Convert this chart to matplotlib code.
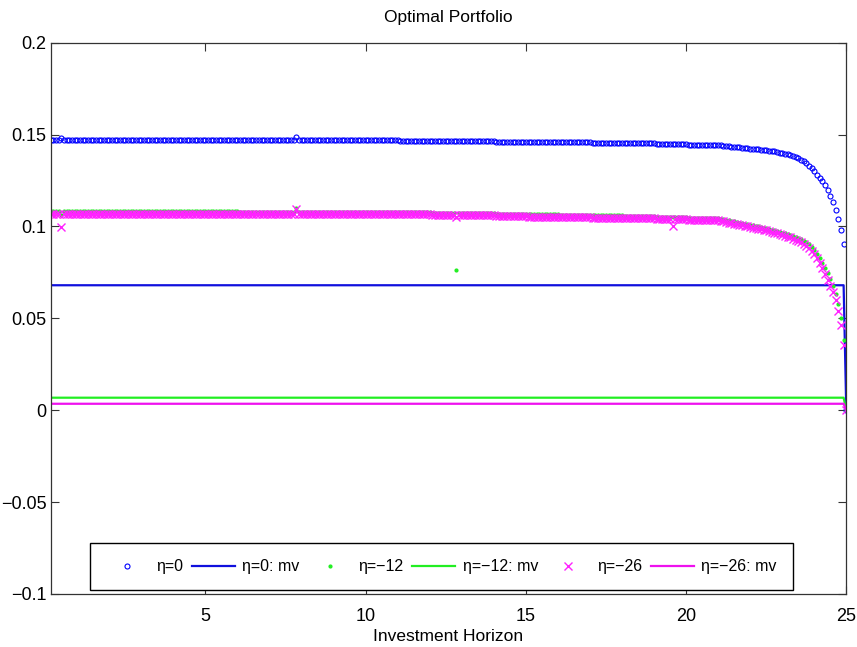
import numpy as np
import matplotlib
matplotlib.use('Agg')
import matplotlib.pyplot as plt

plt.rcParams['font.family'] = ['Liberation Sans', 'DejaVu Sans']

# Investment horizon in months (monthly grid up to 25 years)
months = np.arange(2, 301)
# plateau values per year (first block 11 months, then 12 each), years 0..20
group_counts = [11] + [12] * 20

eta0_plateau = [0.1468, 0.1468, 0.1468, 0.1468, 0.1468, 0.1468, 0.1468, 0.1468, 0.1468, 0.1468, 0.1468,
                0.1467, 0.1465, 0.1463, 0.1461, 0.1459, 0.1457, 0.1455, 0.1453, 0.1449, 0.1443]
eta0_tail = [0.1441, 0.1439, 0.1438, 0.1436, 0.1435, 0.1433, 0.1432, 0.1430, 0.1429, 0.1427, 0.1425, 0.1423,
             0.1421, 0.1420, 0.1419, 0.1417, 0.1416, 0.1414, 0.1412, 0.1410, 0.1408, 0.1405, 0.1402, 0.1399,
             0.1396, 0.1392, 0.1388, 0.1383, 0.1377, 0.1371, 0.1363, 0.1354, 0.1343, 0.1331, 0.1317, 0.1301,
             0.1281, 0.1266, 0.1249, 0.1223, 0.1196, 0.1166, 0.1131, 0.1091, 0.1041, 0.0981, 0.0906, 0.0]
eta0_spikes = {6: 0.1480, 94: 0.1485}

eta12_plateau = [0.1082, 0.1082, 0.1082, 0.1082, 0.1082, 0.1082, 0.1081, 0.1081, 0.1080, 0.1080, 0.1079,
                 0.1078, 0.1075, 0.1072, 0.1069, 0.1066, 0.1063, 0.1060, 0.1057, 0.1052, 0.1045]
eta12_tail = [0.1042, 0.1039, 0.1036, 0.1033, 0.1030, 0.1027, 0.1024, 0.1021, 0.1018, 0.1015, 0.1012, 0.1009,
              0.1006, 0.1003, 0.1000, 0.0997, 0.0994, 0.0991, 0.0987, 0.0983, 0.0979, 0.0975, 0.0971, 0.0967,
              0.0963, 0.0959, 0.0954, 0.0949, 0.0943, 0.0937, 0.0930, 0.0922, 0.0913, 0.0902, 0.0889, 0.0872,
              0.0852, 0.0830, 0.0803, 0.0775, 0.0745, 0.0713, 0.0678, 0.0635, 0.0578, 0.0503, 0.0383, 0.0]
eta12_spikes = {6: 0.1060, 94: 0.1100, 154: 0.0761, 235: 0.1050}

eta26_plateau = [0.1070, 0.1070, 0.1070, 0.1070, 0.1070, 0.1070, 0.1069, 0.1069, 0.1068, 0.1068, 0.1067,
                 0.1066, 0.1063, 0.1060, 0.1057, 0.1054, 0.1051, 0.1048, 0.1045, 0.1040, 0.1033]
eta26_tail = [0.1030, 0.1027, 0.1024, 0.1021, 0.1018, 0.1015, 0.1012, 0.1009, 0.1006, 0.1003, 0.1000, 0.0997,
              0.0993, 0.0990, 0.0987, 0.0984, 0.0981, 0.0978, 0.0974, 0.0970, 0.0966, 0.0962, 0.0958, 0.0954,
              0.0950, 0.0945, 0.0940, 0.0934, 0.0928, 0.0921, 0.0914, 0.0905, 0.0895, 0.0883, 0.0869, 0.0850,
              0.0828, 0.0803, 0.0773, 0.0743, 0.0711, 0.0678, 0.0643, 0.0598, 0.0538, 0.0463, 0.0353, 0.0]
eta26_spikes = {6: 0.0995, 94: 0.1095, 154: 0.1050, 235: 0.1003}

# mean-variance levels (drop to zero at the horizon end)
mv_levels = {'0': 0.0680, '-12': 0.0068, '-26': 0.0035}

ytick_vals = [-0.1, -0.05, 0, 0.05, 0.1, 0.15, 0.2]
ytick_labels = ['\u22120.1', '\u22120.05', '0', '0.05', '0.1', '0.15', '0.2']
xtick_vals = [5, 10, 15, 20, 25]


def build(plateau, tail, spikes):
    y = np.concatenate([np.repeat(plateau, group_counts), tail])
    for m, v in spikes.items():
        y[m - 2] = v
    return y


def mv_series(level):
    y = np.full(len(months), level)
    y[-1] = 0.0
    return y


t = months / 12.0
y0 = build(eta0_plateau, eta0_tail, eta0_spikes)
y12 = build(eta12_plateau, eta12_tail, eta12_spikes)
y26 = build(eta26_plateau, eta26_tail, eta26_spikes)

fig = plt.figure(figsize=(8.57, 6.47), dpi=100)
ax = fig.add_axes([0.059, 0.082, 0.9285, 0.852])

blue = '#0000ff'
green = '#22ee22'
mag = '#ff22ff'

ax.plot(t, y0, 'o', color=blue, mfc='none', ms=3.6, mew=0.8, label='\u03b7=0')
ax.plot(t, mv_series(mv_levels['0']), '-', color='#1010dd', lw=1.6, label='\u03b7=0: mv')
ax.plot(t, y12, '.', color=green, ms=4, label='\u03b7=\u221212')
ax.plot(t, mv_series(mv_levels['-12']), '-', color=green, lw=1.6, label='\u03b7=\u221212: mv')
ax.plot(t, y26, 'x', color=mag, ms=6, mew=1.0, label='\u03b7=\u221226')
ax.plot(t, mv_series(mv_levels['-26']), '-', color='#ee11ee', lw=1.6, label='\u03b7=\u221226: mv')

ax.set_xlim(t[0], 25)
ax.set_ylim(-0.1, 0.2)
ax.set_xticks(xtick_vals)
ax.set_yticks(ytick_vals)
ax.set_yticklabels(ytick_labels)
ax.tick_params(direction='in', top=True, right=True, length=6, width=0.8,
               labelsize=13, color='#333333')
ax.tick_params(axis='x', pad=10)
ax.tick_params(axis='y', pad=3)
for s in ax.spines.values():
    s.set_linewidth(0.9)
    s.set_color('#333333')

ax.set_title('Optimal Portfolio', fontsize=12.5, pad=15)
ax.set_xlabel('Investment Horizon', fontsize=12.5, labelpad=3)

leg = ax.legend(loc='lower left', bbox_to_anchor=(0.049, 0.007), ncol=6, fontsize=11.5,
                handlelength=2.7, handletextpad=0.45, columnspacing=0.55, numpoints=1,
                fancybox=False, framealpha=1, edgecolor='black', borderpad=1.0,
                borderaxespad=0)
leg.get_frame().set_linewidth(1.0)

fig.savefig('out.png', dpi=100)
